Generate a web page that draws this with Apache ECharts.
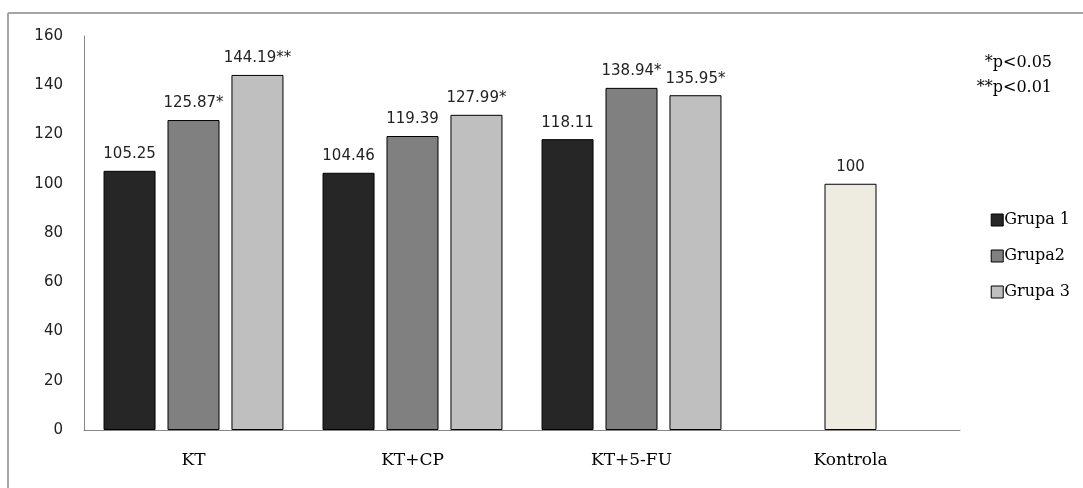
<!DOCTYPE html>
<html>
<head>
<meta charset="utf-8">
<script src="https://cdn.jsdelivr.net/npm/echarts@6/dist/echarts.min.js"></script>
<style>
html,body{margin:0;padding:0;background:#fff;}
#c{width:1083px;height:488px;}
</style>
</head>
<body>
<div id="c"></div>
<script>
var categories = ['KT', 'KT+CP', 'KT+5-FU', 'Kontrola'];
var grupa1 = [105.25, 104.46, 118.11, null];
var grupa2 = [125.87, 119.39, 138.94, 100];
var grupa3 = [144.19, 127.99, 135.95, null];
var grupa1Labels = ['105.25', '104.46', '118.11', ''];
var grupa2Labels = ['125.87*', '119.39', '138.94*', '100'];
var grupa3Labels = ['144.19**', '127.99*', '135.95*', ''];
var yTicks = [0, 20, 40, 60, 80, 100, 120, 140, 160];
var seriesNames = ['Grupa 1', 'Grupa2', 'Grupa 3'];
var noteLines = ['*p<0.05', '**p<0.01'];

var sansFont = '"DejaVu Sans", sans-serif';
var serifFont = '"DejaVu Serif", serif';

function mkLabel(arr) {
  return {
    show: true, position: 'top', distance: 9,
    fontFamily: sansFont, fontSize: 15, color: '#222',
    formatter: function (p) { return arr[p.dataIndex]; }
  };
}

var chart = echarts.init(document.getElementById('c'));
chart.setOption({
  animation: false,
  backgroundColor: '#fff',
  grid: { left: 84, right: 123, top: 36, bottom: 58, containLabel: false },
  legend: {
    orient: 'vertical', right: 8, top: 207,
    itemWidth: 12, itemHeight: 12, itemGap: 20,
    icon: 'rect',
    textStyle: { fontFamily: serifFont, fontSize: 16, color: '#000', padding: [0, 0, 0, -4] },
    data: seriesNames.map(function (n, i) {
      return { name: n, itemStyle: { borderColor: '#000', borderWidth: 1, color: ['#262626', '#808080', '#bfbfbf'][i] } };
    })
  },
  xAxis: {
    type: 'category', data: categories,
    axisLine: { lineStyle: { color: '#868686', width: 1 } },
    axisTick: { show: false },
    axisLabel: { fontFamily: serifFont, fontSize: 17, color: '#000', margin: 22 }
  },
  yAxis: {
    type: 'value', min: 0, max: 160, interval: 20,
    axisLine: { show: true, lineStyle: { color: '#868686', width: 1 } },
    axisTick: { show: false },
    splitLine: { show: false },
    axisLabel: {
      fontFamily: sansFont, fontSize: 15, color: '#222', margin: 21,
      formatter: function (v) { return yTicks.indexOf(v) >= 0 ? String(v) : ''; }
    }
  },
  series: [
    { name: seriesNames[0], type: 'bar', data: grupa1, barWidth: 52, barGap: '23%', barCategoryGap: '17%',
      itemStyle: { color: '#262626', borderColor: '#000', borderWidth: 1 }, label: mkLabel(grupa1Labels) },
    { name: seriesNames[1], type: 'bar', data: grupa2.map(function (v, i) {
        return i === 3 ? { value: v, itemStyle: { color: '#eeece1' } } : v;
      }), barWidth: 52, barGap: '23%',
      itemStyle: { color: '#808080', borderColor: '#000', borderWidth: 1 }, label: mkLabel(grupa2Labels) },
    { name: seriesNames[2], type: 'bar', data: grupa3, barWidth: 52, barGap: '23%',
      itemStyle: { color: '#bfbfbf', borderColor: '#000', borderWidth: 1 }, label: mkLabel(grupa3Labels) }
  ],
  graphic: [
    { type: 'line', shape: { x1: 8, y1: 13, x2: 1083, y2: 13 }, style: { stroke: '#a6a6a6', lineWidth: 2 } },
    { type: 'line', shape: { x1: 8, y1: 13, x2: 8, y2: 488 }, style: { stroke: '#a6a6a6', lineWidth: 2 } },
    { type: 'text', right: 31, top: 55, style: { text: noteLines[0], fontFamily: serifFont, fontSize: 16, fill: '#000', textAlign: 'right' } },
    { type: 'text', right: 31, top: 80, style: { text: noteLines[1], fontFamily: serifFont, fontSize: 16, fill: '#000', textAlign: 'right' } }
  ]
});
</script>
</body>
</html>
